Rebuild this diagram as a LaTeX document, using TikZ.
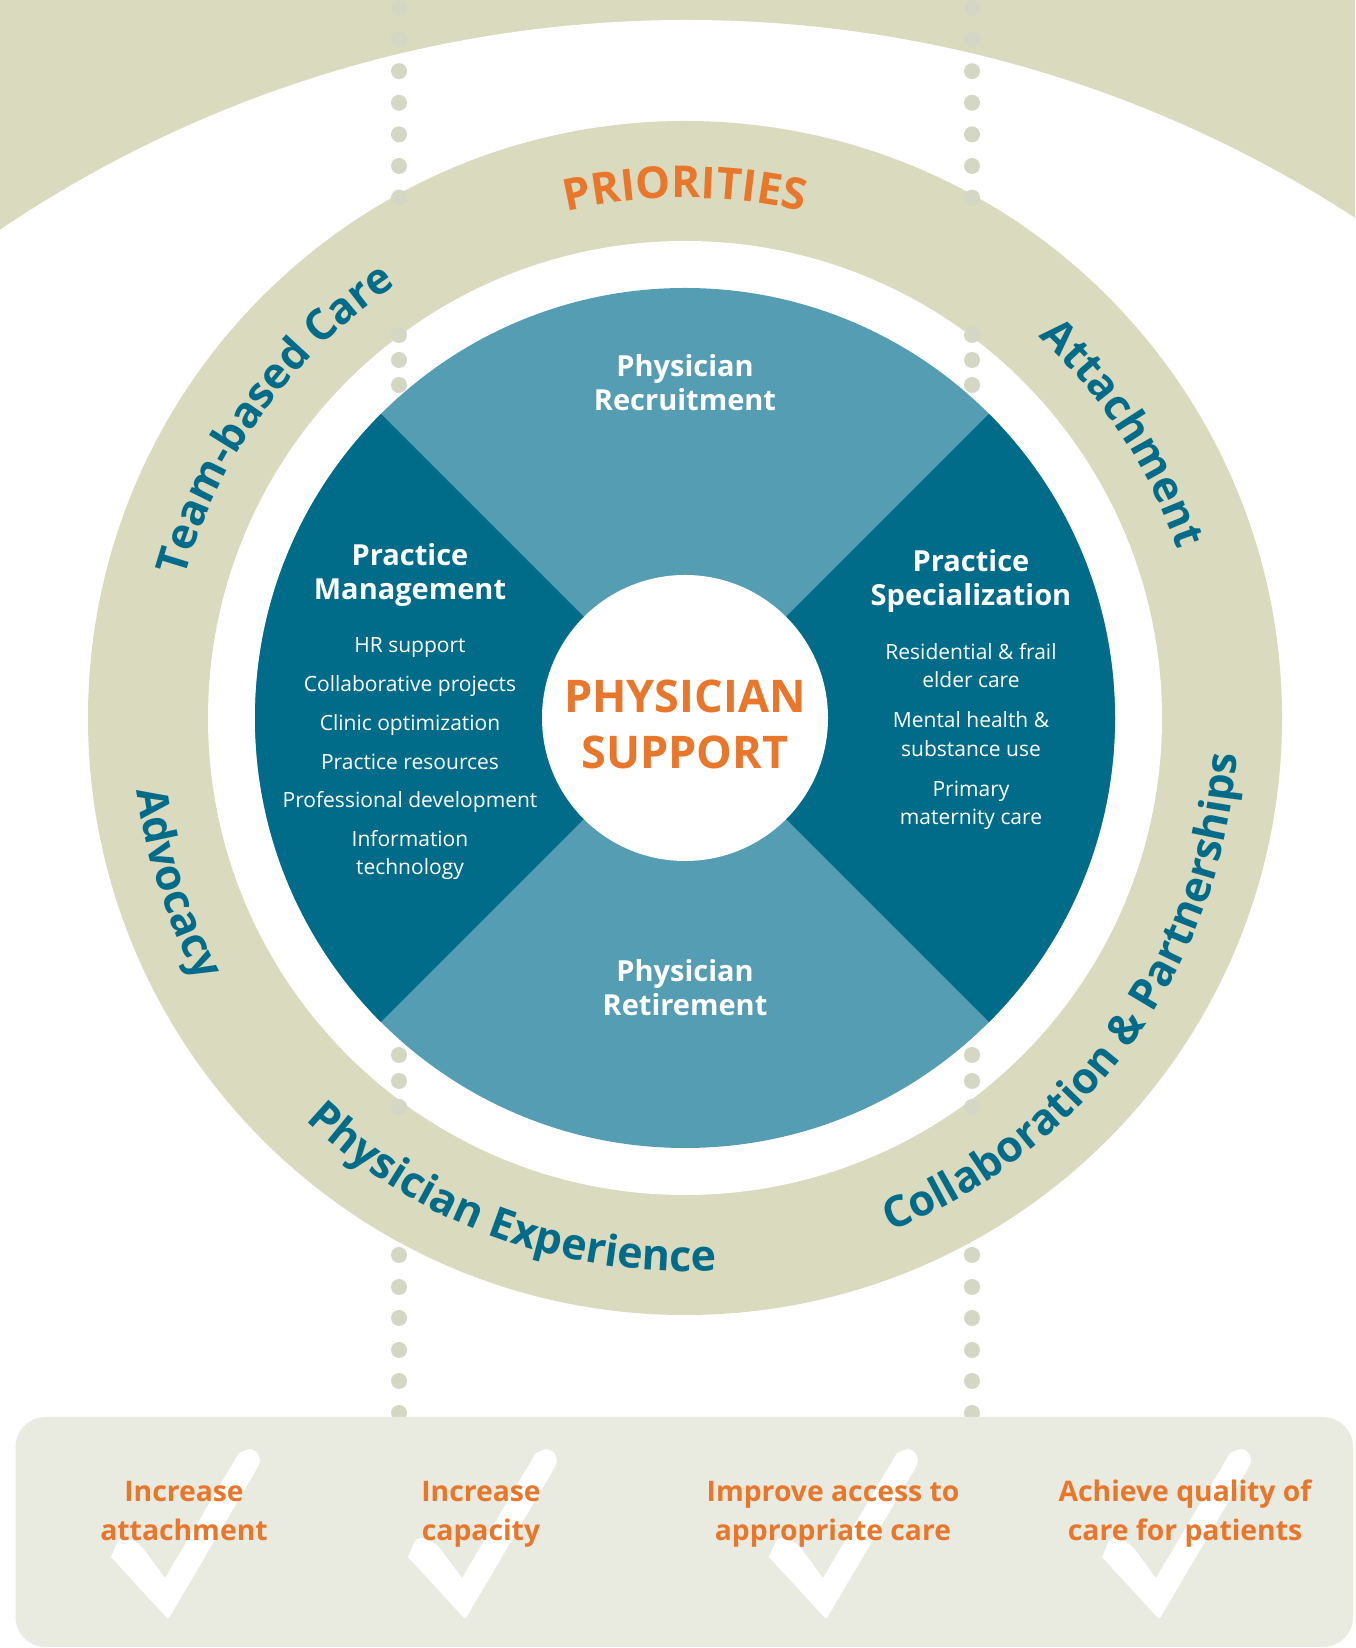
\documentclass[tikz,border=0pt]{standalone}
\usepackage{fontspec}
\setmainfont{Open Sans}
\usetikzlibrary{decorations.text}
\definecolor{beige}{HTML}{D9DABE}
\definecolor{lteal}{HTML}{559DB2}
\definecolor{dteal}{HTML}{006C89}
\definecolor{orng}{HTML}{E8772B}
\definecolor{boxc}{HTML}{E9EAE0}
\definecolor{dotc}{HTML}{D4D7C4}
\newcommand{\fsz}[2]{\fontsize{#1}{#2}\selectfont}
\begin{document}
\begin{tikzpicture}[x=1pt,y=1pt,
  ringtxt/.style={decorate,decoration={text along path,text align=center,text color=dteal,text={|\fsz{43}{43}\bfseries|#1}}},
  prtxt/.style={decorate,decoration={text along path,text align=center,text color=orng,text={|\fsz{44}{44}\bfseries|#1}}},
  quadtitle/.style={font=\fsz{29}{34}\bfseries,text=white,align=center,anchor=base,inner sep=0},
  quaditem/.style={font=\fsz{21}{28.5}\selectfont,text=white,align=center,anchor=base,inner sep=0},
  goal/.style={font=\fsz{28.3}{39}\bfseries,text=orng,align=center,anchor=base,inner sep=0},
  dotm/.style={fill=dotc},
  checkmk/.pic={\fill[white] (0,0) -- (-56,61) [rounded corners=7] -- (-47,82) -- (-28,75) [sharp corners] -- (-2,40) -- (72,165) [rounded corners=7] -- (86,171) -- (95,158) [sharp corners] -- (2,0) -- cycle;}
]
\useasboundingbox (0,0) rectangle (1355,1648);
\fill[white] (0,0) rectangle (1355,1648);
% top background
\fill[beige] (0,1348) rectangle (1355,1648);
\fill[white] (686.5,401) circle[radius=1227];
\coordinate (C) at (685,930);
% ring
\fill[beige] (C) circle[radius=597];
\fill[white] (C) circle[radius=477];
% dotted guides
\foreach \yy in {8,39.6,71.2,102.8,134.4,166,197.6,335,360,385,1055,1081,1107,1255,1287,1318,1350,1381,1413}{
  \fill[dotm] (399,1648-\yy) circle[radius=8];
  \fill[dotm] (972,1648-\yy) circle[radius=8];
}
% disc
\fill[lteal] (C) circle[radius=430];
\fill[dteal] (C) -- ++(135:430) arc[start angle=135,end angle=225,radius=430] -- cycle;
\fill[dteal] (C) -- ++(-45:430) arc[start angle=-45,end angle=45,radius=430] -- cycle;
\fill[white] (C) circle[radius=143];
% centre text (anchor base = baseline of last line)
\node[font=\fsz{45}{56}\bfseries,text=orng,align=center,anchor=base,inner sep=0] (ps) at (685,879) {PHYSICIAN\\SUPPORT};
% quadrant texts
\node[quadtitle] (rec) at (685,1237) {Physician\\Recruitment};
\node[quadtitle] (ret) at (685,632) {Physician\\Retirement};
\node[quadtitle] (pm) at (410,1048) {Practice\\Management};
\node[quadtitle] (psp) at (971,1042) {Practice\\Specialization};
\node[quaditem] (pmi) at (410,773) {HR support\\[10.2pt]Collaborative projects\\[10.2pt]Clinic optimization\\[10.2pt]Practice resources\\[10.2pt]Professional development\\[10.2pt]Information\\technology};
\node[quaditem] (psi) at (971,823) {Residential \& frail\\elder care\\[11.5pt]Mental health \&\\substance use\\[11.5pt]Primary\\maternity care};
% ring texts
\path[prtxt={PRIORITIES}] (C) ++(120:520) arc[start angle=120,end angle=60,radius=520];
\path[ringtxt={Team-based Care}] (C) ++(184:520) arc[start angle=184,end angle=104,radius=520];
\path[ringtxt={Attachment}] (C) ++(63:520) arc[start angle=63,end angle=3,radius=520];
\path[ringtxt={Advocacy}] (C) ++(168:553) arc[start angle=168,end angle=228,radius=553];
\path[ringtxt={Physician Experience}] (C) ++(205:553) arc[start angle=205,end angle=295,radius=553];
\path[ringtxt={Collaboration {\&} Partnerships}] (C) ++(274:553) arc[start angle=274,end angle=374,radius=553];
% bottom box
\fill[boxc,rounded corners=30] (15.5,1) rectangle (1353,231);
\pic at (167,30) {checkmk};
\pic at (464,30) {checkmk};
\pic at (825,30) {checkmk};
\pic at (1158,30) {checkmk};
\node[goal] (g1) at (184,107) {Increase\\attachment};
\node[goal] (g2) at (481,107) {Increase\\capacity};
\node[goal] (g3) at (833,107) {Improve access to\\appropriate care};
\node[goal] (g4) at (1185,107) {Achieve quality of\\care for patients};
\end{tikzpicture}
\end{document}
